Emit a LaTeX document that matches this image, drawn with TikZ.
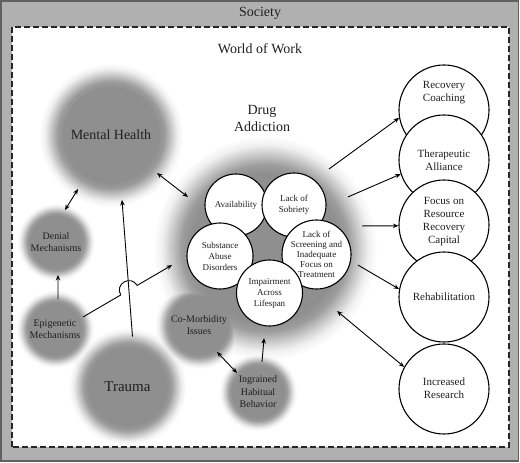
\documentclass[tikz,border=0pt]{standalone}
\usepackage{fontspec}
\setmainfont{Liberation Serif}
\usetikzlibrary{arrows.meta,calc}
\newcommand\myfs[2]{\fontsize{#1}{#2}\selectfont}
\definecolor{societygray}{gray}{0.69}
\definecolor{bordergray}{gray}{0.38}
\definecolor{blobgray}{gray}{0.56}
\definecolor{txt}{gray}{0.12}
\pgfdeclareradialshading{blobsh}{\pgfpointorigin}{color(0bp)=(blobgray); color(16.5bp)=(blobgray); color(18.6bp)=(blobgray!88!white); color(20.8bp)=(blobgray!50!white); color(23bp)=(blobgray!14!white); color(25bp)=(white); color(50bp)=(white)}
\tikzset{
  blob/.style={shading=blobsh, blend mode=darken},
  blobtext/.style={align=center, text=txt, font=\myfs{10}{12.5}, inner sep=0pt},
  smallc/.style={circle, draw=black, fill=white, line width=1.1pt, inner sep=0pt, align=center, text=txt, font=\myfs{9}{11}},
  bigc/.style={circle, draw=black, fill=white, line width=1.1pt, inner sep=0pt, minimum size=90pt},
  bigtext/.style={align=center, text=txt, font=\myfs{11}{13}, inner sep=0pt},
  arr/.style={line width=0.9pt, -{Stealth[length=5.5pt,width=4.5pt]}},
  darr/.style={line width=0.9pt, {Stealth[length=5.5pt,width=4.5pt]}-{Stealth[length=5.5pt,width=4.5pt]}},
}
\begin{document}
\begin{tikzpicture}[x=1pt,y=1pt]
\useasboundingbox (0,0) rectangle (520,463);
\fill[white] (0,0) rectangle (520,463);
\draw[fill=societygray, draw=bordergray, line width=1.5pt] (1,2) rectangle (518.5,462);
\draw[fill=white, draw=black!85, line width=1.4pt, dash pattern=on 6pt off 3pt] (12,16) rectangle (509,436);
\node[font=\myfs{14}{16}, text=txt] (soc) at (260,450) {Society};
\node[font=\myfs{14}{16}, text=txt] (wow) at (260,414) {World of Work};

% blurred blobs
\shade[blob] (265,215) circle (112);
\shade[blob] (111,328) circle (72);
\shade[blob] (56,221) circle (39);
\shade[blob] (55,134) circle (39);
\shade[blob] (127.5,76.5) circle (59);
\shade[blob] (199,138) circle (44);
\shade[blob] (258,71) circle (39);

% blob labels
\node[font=\myfs{14}{17}, text=txt, align=center] (drug) at (265,215) {};
\node[font=\myfs{14}{17}, text=txt, align=center] (drugt) at (262,345) {Drug\\Addiction};
\node[font=\myfs{14}{16}, text=txt] (mh) at (111,328) {Mental Health};
\node[blobtext] (den) at (56,221) {Denial\\Mechanisms};
\node[blobtext] (epi) at (55,134) {Epigenetic\\Mechanisms};
\node[font=\myfs{15}{17}, text=txt] (tr) at (127.5,76.5) {Trauma};
\node[blobtext] (com) at (199,138) {Co-Morbidity\\Issues};
\node[blobtext] (ing) at (258,71) {Ingrained\\Habitual\\Behavior};

% connector end points
\coordinate (denA) at ($(den)+(74.3:33.2)$);
\coordinate (mhA) at ($(mh)+(238.6:63.3)$);
\coordinate (mhB) at ($(mh)+(-39.6:59.7)$);
\coordinate (drugB) at ($(drug)+(146.5:92.4)$);
\coordinate (epiC) at ($(epi)+(84.3:30.1)$);
\coordinate (denC) at ($(den)+(-86.5:33)$);
\coordinate (trD) at ($(tr)+(84.3:50.2)$);
\coordinate (mhD) at ($(mh)+(-80.4:65.9)$);
\coordinate (epiE) at ($(epi)+(23.2:30.5)$);
\coordinate (drugE) at ($(drug)+(190.4:94.5)$);
\coordinate (comF) at ($(com)+(-56.3:32.4)$);
\coordinate (ingF) at ($(ing)+(137.9:28.3)$);
\coordinate (ingG) at ($(ing)+(82.4:30.3)$);
\coordinate (drugG) at ($(drug)+(-90.6:90)$);
\coordinate (drugH) at ($(drug)+(51.0:101.7)$);
\coordinate (drugI) at ($(drug)+(31.6:97.4)$);
\coordinate (drugJ) at ($(drug)+(12.8:99.5)$);
\coordinate (drugK) at ($(drug)+(-10.4:94.5)$);
\coordinate (drugL) at ($(drug)+(-41.2:95.7)$);

% connectors on the left
\draw[darr] (denA) -- (mhA);
\draw[darr] (mhB) -- (drugB);
\draw[arr] (epiC) -- (denC);
\draw[arr] (trD) -- (mhD);
\coordinate (jx) at (intersection of epiE--drugE and trD--mhD);
\coordinate (j1) at ($(jx)!9.5pt!(epiE)$);
\coordinate (j2) at ($(jx)!9.5pt!(drugE)$);
\coordinate (c1) at ($(j1)!12.7pt!90:(jx)$);
\coordinate (c2) at ($(j2)!12.7pt!-90:(jx)$);
\draw[arr] (epiE) -- (j1) .. controls (c1) and (c2) .. (j2) -- (drugE);
\draw[darr] (comF) -- (ingF);
\draw[arr] (ingG) -- (drugG);

% white circles inside drug addiction
\node[smallc, minimum size=62pt] (av) at (236,258) {Availability};
\node[smallc, minimum size=64pt] (ls) at (294,258) {Lack of\\Sobriety};
\node[smallc, minimum size=66pt] (sa) at (220,207) {Substance\\Abuse\\Disorders};
\node[smallc, minimum size=65pt, font=\myfs{9}{10}] (lsc) at (316.5,208.5) {Lack of\\Screening and\\Inadequate\\Focus on\\Treatment};
\node[smallc, minimum size=66pt] (ia) at (269.5,170) {Impairment\\Across\\Lifespan};

% right circles
\node[bigc] (rc) at (444,353) {};
\node[bigtext] (rct) at (444,370) {Recovery\\Coaching};
\node[bigc] (ta) at (444,303) {};
\node[bigtext] (tat) at (444,303) {Therapeutic\\Alliance};
\node[bigc] (fr) at (444,238) {};
\node[bigtext] (frt) at (444,241) {Focus on\\Resource\\Recovery\\Capital};
\node[bigc] (rh) at (444,166) {};
\node[bigtext] (rht) at (444,166) {Rehabilitation};
\node[bigc] (ir) at (444,74) {};
\node[bigtext] (irt) at (444,75) {Increased\\Research};

% connectors on the right
\draw[arr] (drugH) -- (rc.190);
\draw[arr] (drugI) -- (ta.198);
\draw[arr] (drugJ) -- (fr.181);
\draw[arr] (drugK) -- (rh.170);
\draw[darr] (drugL) -- (ir.151);
\end{tikzpicture}
\end{document}
